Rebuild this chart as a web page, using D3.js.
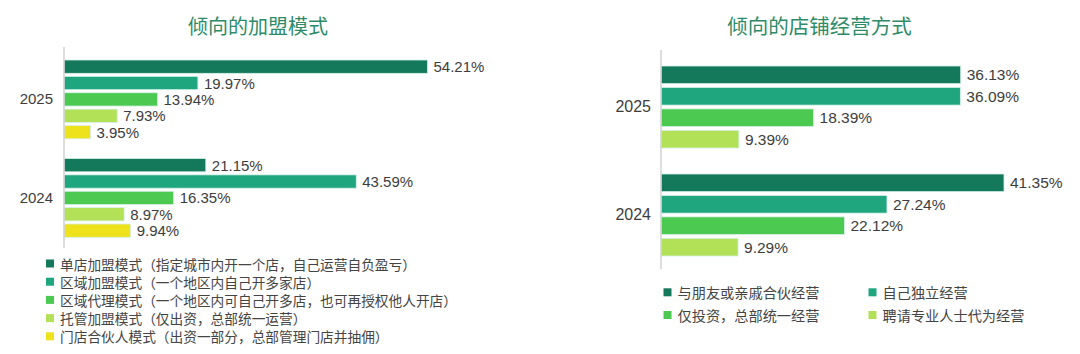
<!DOCTYPE html>
<html>
<head>
<meta charset="utf-8">
<script src="https://cdn.jsdelivr.net/npm/d3@7"></script>
<style>
  body { margin: 0; background: #fff; }
  svg { display: block; }
</style>
</head>
<body>
<div id="container"></div>
<script>
/*** DATA ***/
const years = ["2025", "2024"];

// left chart: franchise modes
const joinModes = [
  "单店加盟模式（指定城市内开一个店，自己运营自负盈亏）",
  "区域加盟模式（一个地区内自己开多家店）",
  "区域代理模式（一个地区内可自己开多店，也可再授权他人开店）",
  "托管加盟模式（仅出资，总部统一运营）",
  "门店合伙人模式（出资一部分，总部管理门店并抽佣）"
];
const joinValues2025 = [54.21, 19.97, 13.94, 7.93, 3.95];
const joinValues2024 = [21.15, 43.59, 16.35, 8.97, 9.94];

// right chart: how the store is run
const runModes = [
  "与朋友或亲戚合伙经营",
  "自己独立经营",
  "仅投资，总部统一经营",
  "聘请专业人士代为经营"
];
const runValues2025 = [36.13, 36.09, 18.39, 9.39];
const runValues2024 = [41.35, 27.24, 22.12, 9.29];

const palette = ["#14785A", "#1FA67F", "#4CC951", "#B2E157", "#EDE21B"];

const width = 1080, height = 354;
const numFont = "'Liberation Sans', Arial, sans-serif";
const cjkFont = "'Noto Sans CJK SC', 'Noto Sans', sans-serif";

const svg = d3.select("#container")
  .append("svg")
  .attr("width", width)
  .attr("height", height);

function drawChart(opts) {
  const g = svg.append("g");
  const rows = years.map(y => ({ year: y, values: opts.values[y] }));

  const x = d3.scaleLinear().domain(opts.xDomain).range(opts.xRange);
  const y0 = d3.scaleBand().domain(years).range(opts.yRange).paddingInner(opts.groupPad);
  const y1 = d3.scaleBand().domain(d3.range(opts.series.length))
    .range([0, y0.bandwidth()]).paddingInner(opts.barPad);

  // title
  g.append("text")
    .attr("x", opts.titleX)
    .attr("y", 25)
    .attr("text-anchor", "middle")
    .attr("dominant-baseline", "central")
    .style("font-family", cjkFont)
    .style("font-size", opts.titleSize + "px")
    .style("fill", "#2E8B68")
    .text(opts.title);

  const groups = g.selectAll("g.grp")
    .data(rows)
    .join("g")
    .attr("class", "grp")
    .attr("transform", d => `translate(0,${y0(d.year)})`);

  groups.selectAll("rect")
    .data(d => d.values)
    .join("rect")
    .attr("x", x(0))
    .attr("y", (d, i) => y1(i))
    .attr("width", d => x(d) - x(0))
    .attr("height", y1.bandwidth())
    .attr("fill", (d, i) => palette[i])
    .attr("stroke", "#d4f1e8")
    .attr("stroke-width", 0.8);

  groups.selectAll("text.val")
    .data(d => d.values)
    .join("text")
    .attr("class", "val")
    .attr("x", d => x(d) + 6)
    .attr("y", (d, i) => y1(i) + y1.bandwidth() / 2)
    .attr("dominant-baseline", "central")
    .style("font-family", numFont)
    .style("font-size", opts.valSize + "px")
    .style("fill", "#3d3d3d")
    .text(d => d.toFixed(2) + "%");

  // year axis
  const axis = g.append("g")
    .attr("transform", `translate(${x(0)},0)`)
    .call(d3.axisLeft(y0).tickSize(0).tickPadding(opts.tickPad));
  axis.select(".domain").remove();
  axis.selectAll("text")
    .style("font-family", numFont)
    .style("font-size", opts.yearSize + "px")
    .style("fill", "#3d3d3d");
  g.append("line")
    .attr("x1", x(0)).attr("x2", x(0))
    .attr("y1", opts.axisY[0]).attr("y2", opts.axisY[1])
    .attr("stroke", "#d2d2d2")
    .attr("stroke-width", 1.5);

  // legend
  const leg = g.selectAll("g.leg")
    .data(opts.series)
    .join("g")
    .attr("class", "leg")
    .attr("transform", (d, i) => {
      const col = i % opts.legCols, row = Math.floor(i / opts.legCols);
      return `translate(${opts.legX + col * opts.legColW},${opts.legY + row * opts.legRowH})`;
    });
  leg.append("rect")
    .attr("x", 0).attr("y", -4)
    .attr("width", 8).attr("height", 8)
    .attr("fill", (d, i) => palette[i]);
  leg.append("text")
    .attr("x", opts.legTextDx)
    .attr("y", 0)
    .attr("dominant-baseline", "central")
    .style("font-family", cjkFont)
    .style("font-size", opts.legSize + "px")
    .style("fill", "#444")
    .text(d => d);
}

drawChart({
  title: "倾向的加盟模式",
  titleX: 258, titleSize: 20,
  series: joinModes,
  values: { "2025": joinValues2025, "2024": joinValues2024 },
  xDomain: [0, 60], xRange: [64, 64 + 60 * 6.705],
  yRange: [60, 237.3], groupPad: 0.2, barPad: 0.187,
  axisY: [47, 248], tickPad: 11,
  valSize: 15, yearSize: 15,
  legX: 46, legY: 263.5, legRowH: 18.2, legCols: 1, legColW: 0,
  legTextDx: 14, legSize: 13.7
});

drawChart({
  title: "倾向的店铺经营方式",
  titleX: 819.5, titleSize: 20.5,
  series: runModes,
  values: { "2025": runValues2025, "2024": runValues2024 },
  xDomain: [0, 50], xRange: [661, 661 + 50 * 8.295],
  yRange: [66, 256], groupPad: 0.2407, barPad: 0.177,
  axisY: [50, 269], tickPad: 10,
  valSize: 15.5, yearSize: 16,
  legX: 663.5, legY: 292.3, legRowH: 22.7, legCols: 2, legColW: 205,
  legTextDx: 14, legSize: 14.2
});
</script>
</body>
</html>
